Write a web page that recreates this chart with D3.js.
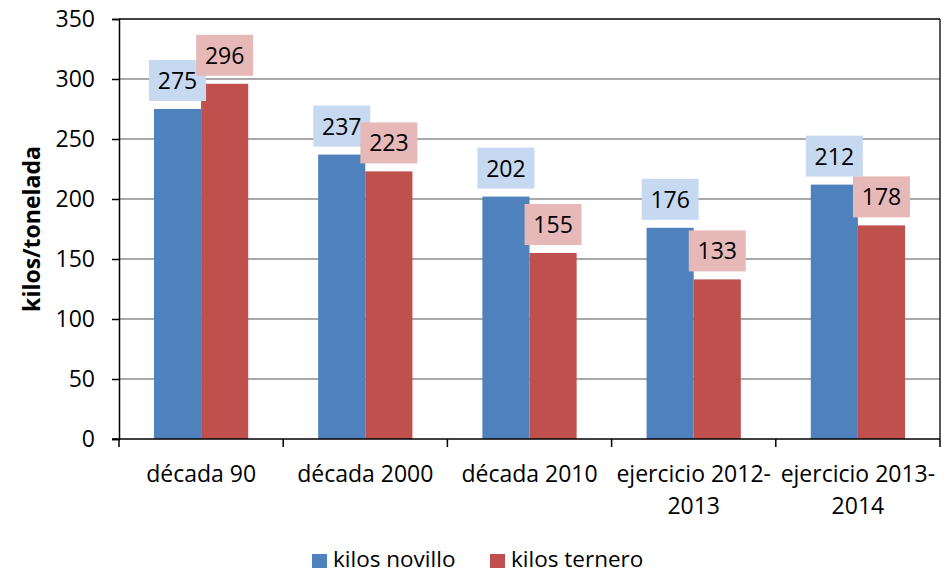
<!DOCTYPE html>
<html>
<head>
<script src="https://cdn.jsdelivr.net/npm/d3@7"></script>
<style type="text/css">
  body { margin: 0; background: #fff; }
  text { font-family: 'Open Sans', 'Liberation Sans', sans-serif; fill: #000; }
</style>
</head>
<body>
<script type="text/javascript">

var categories = [["década 90"], ["década 2000"], ["década 2010"], ["ejercicio 2012-", "2013"], ["ejercicio 2013-", "2014"]];
var novillo = [275, 237, 202, 176, 212];
var ternero = [296, 223, 155, 133, 178];
var seriesNames = ["kilos novillo", "kilos ternero"];
var yTicks = [0, 50, 100, 150, 200, 250, 300, 350];

var colors = ["#4F81BD", "#C0504D"];
var labelBg = ["#C6D9F1", "#E6B9B8"];

var W = 945, H = 573;
var margin = {top: 19, right: 5, bottom: 134, left: 119};
var width = W - margin.left - margin.right;
var height = H - margin.top - margin.bottom;

var svg = d3.select("body").append("svg")
    .attr("width", W).attr("height", H);
var g = svg.append("g")
    .attr("transform", "translate(" + margin.left + "," + margin.top + ")");

var idx = d3.range(categories.length);
var x = d3.scaleBand().domain(idx).range([0, width]).paddingInner(0.426).paddingOuter(0.213);
var band = d3.scaleBand().domain(idx).range([0, width]);
var xs = d3.scaleBand().domain([0, 1]).range([0, x.bandwidth()]);
var y = d3.scaleLinear().domain([0, 350]).range([height, 0]);

// gridlines
g.selectAll(".grid").data(yTicks.slice(1, -1)).enter().append("line")
  .attr("x1", 0).attr("x2", width)
  .attr("y1", function(d) { return y(d); }).attr("y2", function(d) { return y(d); })
  .attr("stroke", "#8c8c8c").attr("stroke-width", 1.5);

// top and right border
g.append("line").attr("x1", 0).attr("x2", width).attr("y1", 0).attr("y2", 0)
  .attr("stroke", "#000").attr("stroke-width", 1.5);
g.append("line").attr("x1", width).attr("x2", width).attr("y1", 0).attr("y2", height)
  .attr("stroke", "#222").attr("stroke-width", 1.5);

// bars
var data = [novillo, ternero];
data.forEach(function(vals, s) {
  g.selectAll(".bar" + s).data(vals).enter().append("rect")
    .attr("x", function(d, i) { return x(i) + xs(s); })
    .attr("y", function(d) { return y(d); })
    .attr("width", xs.bandwidth())
    .attr("height", function(d) { return height - y(d); })
    .attr("fill", colors[s]);
});

// value labels
data.forEach(function(vals, s) {
  var lab = g.selectAll(".lab" + s).data(vals).enter().append("g")
    .attr("transform", function(d, i) {
      return "translate(" + (x(i) + xs(s) + xs.bandwidth() / 2) + "," + (y(d) - 8) + ")";
    });
  lab.append("rect")
    .attr("x", -28.5).attr("y", -41).attr("width", 57).attr("height", 41)
    .attr("fill", labelBg[s]);
  lab.append("text")
    .attr("text-anchor", "middle").attr("y", -12)
    .style("font-size", "23px")
    .text(function(d) { return d; });
});

// y axis
var yAxis = d3.axisLeft(y).tickValues(yTicks).tickSize(7).tickPadding(17);
var ya = g.append("g").call(yAxis);
ya.attr("font-size", null).attr("font-family", null);
ya.select(".domain").attr("stroke", "#000").attr("stroke-width", 1.5);
ya.selectAll(".tick line").attr("stroke", "#000").attr("stroke-width", 1.5);
ya.selectAll(".tick text").style("font-size", "23px");

// x axis
var xa = g.append("g").attr("transform", "translate(0," + height + ")");
xa.append("line").attr("x1", -7).attr("x2", width).attr("stroke", "#000").attr("stroke-width", 1.5);
xa.selectAll(".xt").data(d3.range(categories.length + 1)).enter().append("line")
  .attr("x1", function(d) { return d * band.bandwidth(); })
  .attr("x2", function(d) { return d * band.bandwidth(); })
  .attr("y1", 0).attr("y2", 8)
  .attr("stroke", "#000").attr("stroke-width", 1.5);
var xl = xa.selectAll(".xl").data(categories).enter().append("text")
  .attr("text-anchor", "middle")
  .style("font-size", "23px")
  .attr("transform", function(d, i) { return "translate(" + (band(i) + band.bandwidth() / 2) + ",43)"; });
xl.selectAll("tspan").data(function(d) { return d; }).enter().append("tspan")
  .attr("x", 0).attr("dy", function(d, i) { return i ? 32 : 0; })
  .text(function(d) { return d; });

// y title
svg.append("text")
  .attr("transform", "translate(40," + (margin.top + height / 2) + ") rotate(-90)")
  .attr("text-anchor", "middle")
  .style("font-size", "23px").attr("font-weight", "bold")
  .text("kilos/tonelada");

// legend
var legX = [312, 490];
seriesNames.forEach(function(n, s) {
  svg.append("rect").attr("x", legX[s]).attr("y", 554).attr("width", 15).attr("height", 14).attr("fill", colors[s]);
  svg.append("text").attr("x", legX[s] + 21).attr("y", 567).style("font-size", "22.5px").text(n);
});

</script>
</body>
</html>
